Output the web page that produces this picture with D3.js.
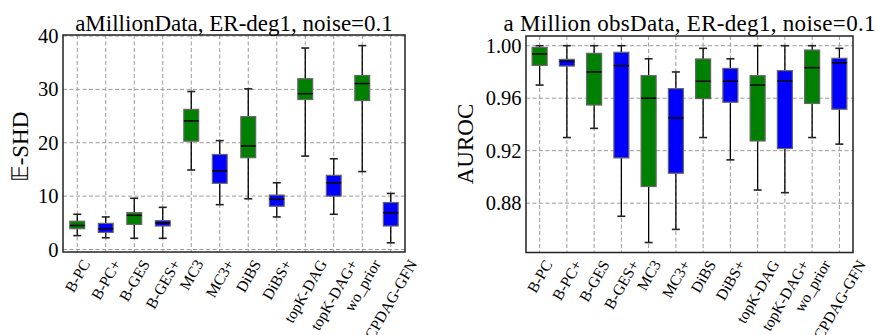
<!DOCTYPE html>
<html>
<head>
    <meta charset="utf-8">
    <script src="https://d3js.org/d3.v7.min.js"></script>
    <style type="text/css">
        body { margin: 0; background: white; }
        svg text { font-family: "Liberation Serif", serif; fill: black; }
        .grid line { stroke: #9a9a9a; stroke-width: 1px; stroke-dasharray: 4, 2.5; }
        .frame { fill: none; stroke: #222; stroke-width: 1.5px; }
        .whisker { stroke: black; stroke-width: 1.3px; }
        .cap { stroke: #222; stroke-width: 1.6px; }
        .box { stroke: #666; stroke-width: 1.2px; }
        .median { stroke: black; stroke-width: 1.5px; }
    </style>
</head>
<body>
<script>
    // categories (same on both panels)
    let methods = ["B-PC", "B-PC+", "B-GES", "B-GES+", "MC3", "MC3+", "DiBS", "DiBS+",
        "topK-DAG", "topK-DAG+", "wo_prior", "CPDAG-GFN"];
    let colors = ["green", "blue", "green", "blue", "green", "blue", "green", "blue",
        "green", "blue", "green", "blue"];

    // E-SHD: whisker low, q1, median, q3, whisker high
    let shd_low = [2.6, 2.2, 2.1, 2.1, 14.9, 8.4, 9.5, 6.1, 17.5, 6.6, 14.6, 1.25];
    let shd_q1 = [3.9, 3.2, 4.7, 4.4, 20.3, 12.4, 17.2, 8.1, 28.1, 10.0, 27.9, 4.4];
    let shd_med = [4.5, 3.9, 6.4, 5.0, 24.1, 14.75, 19.4, 9.4, 29.2, 12.5, 31.1, 6.9];
    let shd_q3 = [5.3, 4.9, 6.9, 5.4, 26.25, 17.8, 24.9, 10.2, 32.0, 13.9, 32.6, 8.8];
    let shd_high = [6.6, 6.1, 9.6, 7.9, 29.6, 20.4, 30.1, 12.5, 37.75, 17.0, 38.2, 10.5];
    let shd_ticks = [0, 10, 20, 30, 40];

    // AUROC
    let auc_low = [0.970, 0.930, 0.937, 0.870, 0.850, 0.860, 0.930, 0.913, 0.890, 0.888, 0.930, 0.925];
    let auc_q1 = [0.985, 0.9845, 0.9548, 0.9145, 0.8927, 0.9028, 0.9597, 0.9569, 0.9274, 0.9216, 0.956, 0.9516];
    let auc_med = [0.9937, 0.988, 0.980, 0.9848, 0.960, 0.945, 0.9729, 0.9729, 0.970, 0.9729, 0.9833, 0.987];
    let auc_q3 = [0.9987, 0.9896, 0.9942, 0.995, 0.9772, 0.9673, 0.9899, 0.9827, 0.9772, 0.981, 0.9967, 0.9904];
    let auc_high = [1.0, 1.0, 1.0, 1.0, 0.990, 0.980, 0.998, 0.990, 1.0, 1.0, 1.0, 0.998];
    let auc_ticks = [0.88, 0.92, 0.96, 1.00];

    let serif = "'Liberation Serif', serif";

    let svg = d3.select("body").append("svg")
        .attr("width", 878)
        .attr("height", 335);

    function panel(p) {
        let g = svg.append("g");

        let x = d3.scaleBand()
            .domain(methods)
            .range([p.left, p.right]);
        let cx = function (m) { return x(m) + x.bandwidth() / 2; };

        let y = d3.scaleLinear()
            .domain(p.domain)
            .range([p.bottom, p.top]);

        // grid
        let grid = g.append("g").attr("class", "grid");
        grid.selectAll("line.v").data(methods).enter().append("line")
            .attr("x1", cx).attr("x2", cx)
            .attr("y1", p.top).attr("y2", p.bottom);
        grid.selectAll("line.h").data(p.ticks).enter().append("line")
            .attr("x1", p.left).attr("x2", p.right)
            .attr("y1", function (d) { return y(d); })
            .attr("y2", function (d) { return y(d); });

        // y axis labels (no tick marks)
        let yAxis = d3.axisLeft(y).tickValues(p.ticks).tickFormat(p.fmt).tickSize(0).tickPadding(4.5);
        let ya = g.append("g")
            .attr("transform", "translate(" + p.left + ",0)")
            .call(yAxis);
        ya.select(".domain").remove();
        ya.attr("font-family", null).attr("font-size", null);
        ya.selectAll("text")
            .style("font-family", serif)
            .style("font-size", "20.5px");

        // boxes
        let bw = x.bandwidth() * p.boxFrac;
        let cw = 8;
        let rows = methods.map(function (m, i) {
            return { m: m, c: colors[i], lo: p.lo[i], q1: p.q1[i], med: p.med[i], q3: p.q3[i], hi: p.hi[i] };
        });
        let b = g.selectAll("g.bx").data(rows).enter().append("g");
        b.append("line").attr("class", "whisker")
            .attr("x1", function (d) { return cx(d.m); }).attr("x2", function (d) { return cx(d.m); })
            .attr("y1", function (d) { return y(d.hi); }).attr("y2", function (d) { return y(d.q3); });
        b.append("line").attr("class", "whisker")
            .attr("x1", function (d) { return cx(d.m); }).attr("x2", function (d) { return cx(d.m); })
            .attr("y1", function (d) { return y(d.q1); }).attr("y2", function (d) { return y(d.lo); });
        b.append("line").attr("class", "cap")
            .attr("x1", function (d) { return cx(d.m) - cw / 2; }).attr("x2", function (d) { return cx(d.m) + cw / 2; })
            .attr("y1", function (d) { return y(d.hi); }).attr("y2", function (d) { return y(d.hi); });
        b.append("line").attr("class", "cap")
            .attr("x1", function (d) { return cx(d.m) - cw / 2; }).attr("x2", function (d) { return cx(d.m) + cw / 2; })
            .attr("y1", function (d) { return y(d.lo); }).attr("y2", function (d) { return y(d.lo); });
        b.append("rect").attr("class", "box")
            .attr("x", function (d) { return cx(d.m) - bw / 2; })
            .attr("width", bw)
            .attr("y", function (d) { return y(d.q3); })
            .attr("height", function (d) { return y(d.q1) - y(d.q3); })
            .attr("fill", function (d) { return d.c === "green" ? "#008000" : "#0000ff"; });
        b.append("line").attr("class", "median")
            .attr("x1", function (d) { return cx(d.m) - bw / 2; }).attr("x2", function (d) { return cx(d.m) + bw / 2; })
            .attr("y1", function (d) { return y(d.med); }).attr("y2", function (d) { return y(d.med); });

        // frame
        g.append("rect").attr("class", "frame")
            .attr("x", p.left).attr("y", p.top)
            .attr("width", p.right - p.left).attr("height", p.bottom - p.top);

        // rotated x labels, bbox centred on tick, top just under the axis
        let fs = 15.5;
        g.selectAll("text.xl").data(methods).enter().append("text")
            .attr("class", "xl")
            .style("font-family", serif)
            .style("font-size", fs + "px")
            .attr("text-anchor", "middle")
            .attr("dominant-baseline", "central")
            .text(function (d) { return d; })
            .attr("transform", function (d) {
                let L = this.getComputedTextLength();
                let h = fs * 0.75;
                let half = (L * Math.sin(Math.PI / 3) + h * Math.cos(Math.PI / 3)) / 2;
                return "translate(" + cx(d) + "," + (p.bottom + 6 + half) + ") rotate(-60)";
            });

        // title
        let t = g.append("text")
            .attr("x", (p.left + p.right) / 2)
            .attr("y", 31)
            .attr("text-anchor", "middle")
            .style("font-family", serif)
            .style("font-size", "23px")
            .text(p.title);
        if (p.titleLen) t.attr("textLength", p.titleLen).attr("lengthAdjust", "spacing");

        // y label
        g.append("text")
            .attr("transform", "translate(" + p.labX + "," + p.labY + ") rotate(-90)")
            .attr("text-anchor", "middle")
            .style("font-family", serif)
            .style("font-size", "23px")
            .text(p.ylabel);
    }

    panel({
        left: 63, right: 405, top: 35, bottom: 252,
        domain: [-0.47, 40.19], ticks: shd_ticks, fmt: d3.format("d"),
        lo: shd_low, q1: shd_q1, med: shd_med, q3: shd_q3, hi: shd_high,
        boxFrac: 0.52,
        title: "aMillionData, ER-deg1, noise=0.1",
        ylabel: "\u{1D53C}-SHD", labX: 28, labY: 147
    });

    panel({
        left: 526, right: 853, top: 36, bottom: 252.5,
        domain: [0.8424, 1.0074], ticks: auc_ticks, fmt: d3.format(".2f"),
        lo: auc_low, q1: auc_q1, med: auc_med, q3: auc_q3, hi: auc_high,
        boxFrac: 0.55,
        title: "a Million obsData, ER-deg1, noise=0.1", titleLen: 372,
        ylabel: "AUROC", labX: 473, labY: 144
    });
</script>
</body>
</html>
